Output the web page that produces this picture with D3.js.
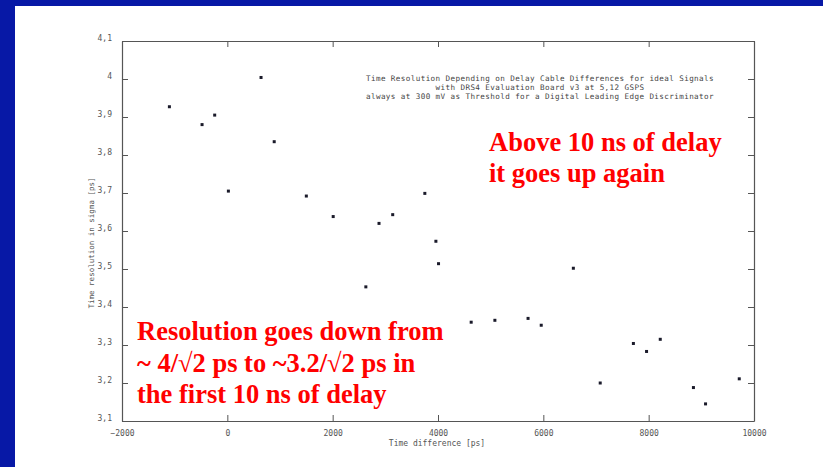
<!DOCTYPE html>
<html>
<head>
<meta charset="utf-8">
<script src="https://cdn.jsdelivr.net/npm/d3@7"></script>
<style>
  body { margin: 0; background: #fff; }
  svg { display: block; }
</style>
</head>
<body>
<div id="chart"></div>
<script>
/* DATA */
const delays = [-1100, -480, -240, 20, 640, 890, 1500, 2010, 2630, 2880, 3140, 3750,
  3960, 4010, 4630, 5080, 5710, 5960, 6570, 7080, 7710, 7960, 8220, 8850, 9080, 9720];
const resolutions = [3.927, 3.880, 3.905, 3.705, 4.004, 3.835, 3.692, 3.638, 3.453, 3.620, 3.643, 3.699,
  3.573, 3.514, 3.360, 3.365, 3.370, 3.352, 3.502, 3.200, 3.304, 3.283, 3.315, 3.188, 3.145, 3.211];
const xTicks = [-2000, 0, 2000, 4000, 6000, 8000, 10000];
const yTicks = [3.1, 3.2, 3.3, 3.4, 3.5, 3.6, 3.7, 3.8, 3.9, 4.0, 4.1];
const yTickLabels = ["3,1", "3,2", "3,3", "3,4", "3,5", "3,6", "3,7", "3,8", "3,9", "4", "4,1"];
const titleLines = [
  "Time Resolution Depending on Delay Cable Differences for ideal Signals",
  "with DRS4 Evaluation Board v3 at 5,12 GSPS",
  "always at 300 mV as Threshold for a Digital Leading Edge Discriminator"
];
const noteTop = ["Above 10 ns of delay", "it goes up again"];
const noteBottom = ["Resolution goes down from", "~ 4/\u221A2 ps to ~3.2/\u221A2 ps in", "the first 10 ns of delay"];

/* CONSTANTS */
const width = 823, height = 467;
const plot = { left: 122, right: 754, top: 41, bottom: 421 };
const blue = "#0718a6";

const svg = d3.select("#chart").append("svg")
  .attr("width", width)
  .attr("height", height);

// slide frame
svg.append("rect").attr("x", 0).attr("y", 0).attr("width", width).attr("height", 6).attr("fill", blue);
svg.append("rect").attr("x", 0).attr("y", 0).attr("width", 15).attr("height", height).attr("fill", blue);

// scales
const xScale = d3.scaleLinear().domain([-2000, 10000]).range([plot.left, plot.right]);
const yScale = d3.scaleLinear().domain([3.1, 4.1]).range([plot.bottom, plot.top]);

const tickFont = "'DejaVu Sans Mono', monospace";

// axes, ticks pointing inward on all four sides
const xBottom = d3.axisBottom(xScale).tickValues(xTicks).tickSizeInner(-6).tickSizeOuter(0)
  .tickPadding(9).tickFormat(d3.format("d"));
const xTop = d3.axisTop(xScale).tickValues(xTicks).tickSizeInner(-6).tickSizeOuter(0).tickFormat("");
const yLeft = d3.axisLeft(yScale).tickValues(yTicks).tickSizeInner(-6).tickSizeOuter(0)
  .tickPadding(10).tickFormat((d, i) => yTickLabels[i]);
const yRight = d3.axisRight(yScale).tickValues(yTicks).tickSizeInner(-6).tickSizeOuter(0).tickFormat("");

const gx = svg.append("g").attr("transform", `translate(0,${plot.bottom})`).call(xBottom);
svg.append("g").attr("transform", `translate(0,${plot.top})`).call(xTop);
const gy = svg.append("g").attr("transform", `translate(${plot.left},0)`).call(yLeft);
svg.append("g").attr("transform", `translate(${plot.right},0)`).call(yRight);

svg.selectAll(".domain").attr("stroke", "#555").attr("stroke-width", 1.2);
svg.selectAll(".tick line").attr("stroke", "#555");
svg.selectAll(".tick text").attr("fill", "#555").style("font-family", tickFont).style("font-size", "8px");
gy.selectAll(".tick text").attr("dy", "-0.05em");

// axis titles
svg.append("text")
  .attr("x", (plot.left + plot.right) / 2 - 1)
  .attr("y", 446)
  .attr("text-anchor", "middle")
  .attr("fill", "#555")
  .style("font-family", tickFont)
  .style("font-size", "8px")
  .text("Time difference [ps]");

svg.append("text")
  .attr("transform", `translate(94,${(plot.top + plot.bottom) / 2 + 12}) rotate(-90)`)
  .attr("text-anchor", "middle")
  .attr("fill", "#555")
  .style("font-family", tickFont)
  .style("font-size", "7.5px")
  .text("Time resolution in sigma [ps]");

// plot title
svg.append("g").selectAll("text")
  .data(titleLines)
  .join("text")
  .attr("x", 540)
  .attr("y", (d, i) => 81 + i * 9)
  .attr("text-anchor", "middle")
  .attr("fill", "#444")
  .style("font-family", tickFont)
  .style("font-size", "7.6px")
  .style("letter-spacing", "0.4px")
  .text(d => d);

// data points
svg.append("g").selectAll("rect")
  .data(delays.map((d, i) => ({ x: d, y: resolutions[i] })))
  .join("rect")
  .attr("x", d => xScale(d.x) - 1.5)
  .attr("y", d => yScale(d.y) - 1.5)
  .attr("width", 3)
  .attr("height", 3)
  .attr("fill", "#1a1a2a");

// red annotations
const noteFont = "'Liberation Serif', 'Times New Roman', serif";
svg.append("g").selectAll("text")
  .data(noteTop)
  .join("text")
  .attr("x", 489)
  .attr("y", (d, i) => 151 + i * 31)
  .attr("fill", "#ff0000")
  .style("font-family", noteFont)
  .style("font-weight", "bold")
  .style("font-size", "26.5px")
  .text(d => d);

svg.append("g").selectAll("text")
  .data(noteBottom)
  .join("text")
  .attr("x", 137)
  .attr("y", (d, i) => 340 + i * 31.5)
  .attr("fill", "#ff0000")
  .style("font-family", noteFont)
  .style("font-weight", "bold")
  .style("font-size", "26.5px")
  .text(d => d);
</script>
</body>
</html>
